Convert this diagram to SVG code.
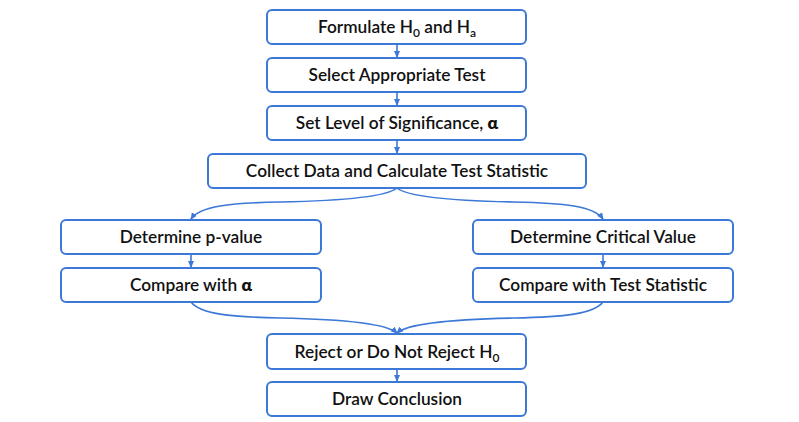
<svg xmlns="http://www.w3.org/2000/svg" width="799" height="422" viewBox="0 0 799 422">
<style>
.box rect{fill:#fff;stroke:#3b78d8;stroke-width:2}
.box text{font-family:Lato,"Open Sans",sans-serif;font-weight:600;font-size:17.3px;fill:#111;text-anchor:middle}
.sub{font-size:12px}
.c{fill:none;stroke:#3b78d8;stroke-width:1.6}
</style>
<defs>
<marker id="ah" markerWidth="8" markerHeight="8" refX="6" refY="4" orient="auto" markerUnits="userSpaceOnUse">
<path d="M0,1 L7,4 L0,7 Z" fill="#3b78d8"/>
</marker>
</defs>
<rect width="799" height="422" fill="#fff"/>
<g id="connectors">
<path class="c" d="M397,44 V57" marker-end="url(#ah)"/>
<path class="c" d="M397,92 V105" marker-end="url(#ah)"/>
<path class="c" d="M397,140 V153" marker-end="url(#ah)"/>
<path class="c" d="M397,188 C385,198 330,201 280,202 C230,203 200,206 191,219" marker-end="url(#ah)"/>
<path class="c" d="M397,188 C409,198 464,201 514,202 C564,203 594,206 603,219" marker-end="url(#ah)"/>
<path class="c" d="M191,255 V267" marker-end="url(#ah)"/>
<path class="c" d="M603,255 V267" marker-end="url(#ah)"/>
<path class="c" d="M191,302 C200,314 230,317 280,318 C330,319 385,322 397,333" marker-end="url(#ah)"/>
<path class="c" d="M603,302 C594,314 564,317 514,318 C464,319 409,322 397,333" marker-end="url(#ah)"/>
<path class="c" d="M397,369 V381" marker-end="url(#ah)"/>
</g>
<g id="n1" class="box"><rect x="267" y="10" width="259" height="34" rx="5"/><text x="397" y="33">Formulate H<tspan class="sub" dy="4">0</tspan><tspan dy="-4"> and H</tspan><tspan class="sub" dy="4">a</tspan></text></g>
<g id="n2" class="box"><rect x="267" y="58" width="259" height="34" rx="5"/><text x="397" y="81">Select Appropriate Test</text></g>
<g id="n3" class="box"><rect x="267" y="106" width="259" height="34" rx="5"/><text x="397" y="129">Set Level of Significance, <tspan font-weight="800">α</tspan></text></g>
<g id="n4" class="box"><rect x="208" y="154" width="378" height="34" rx="5"/><text x="397" y="177">Collect Data and Calculate Test Statistic</text></g>
<g id="n5" class="box"><rect x="61" y="220" width="260" height="34" rx="5"/><text x="191" y="243">Determine p-value</text></g>
<g id="n6" class="box"><rect x="61" y="268" width="260" height="34" rx="5"/><text x="191" y="291">Compare with <tspan font-weight="800">α</tspan></text></g>
<g id="n7" class="box"><rect x="473" y="220" width="260" height="34" rx="5"/><text x="603" y="243">Determine Critical Value</text></g>
<g id="n8" class="box"><rect x="473" y="268" width="260" height="34" rx="5"/><text x="603" y="291">Compare with Test Statistic</text></g>
<g id="n9" class="box"><rect x="267" y="334" width="259" height="35" rx="5"/><text x="397" y="358">Reject or Do Not Reject H<tspan class="sub" dy="4">0</tspan></text></g>
<g id="n10" class="box"><rect x="267" y="382" width="259" height="34" rx="5"/><text x="397" y="405">Draw Conclusion</text></g>
</svg>
